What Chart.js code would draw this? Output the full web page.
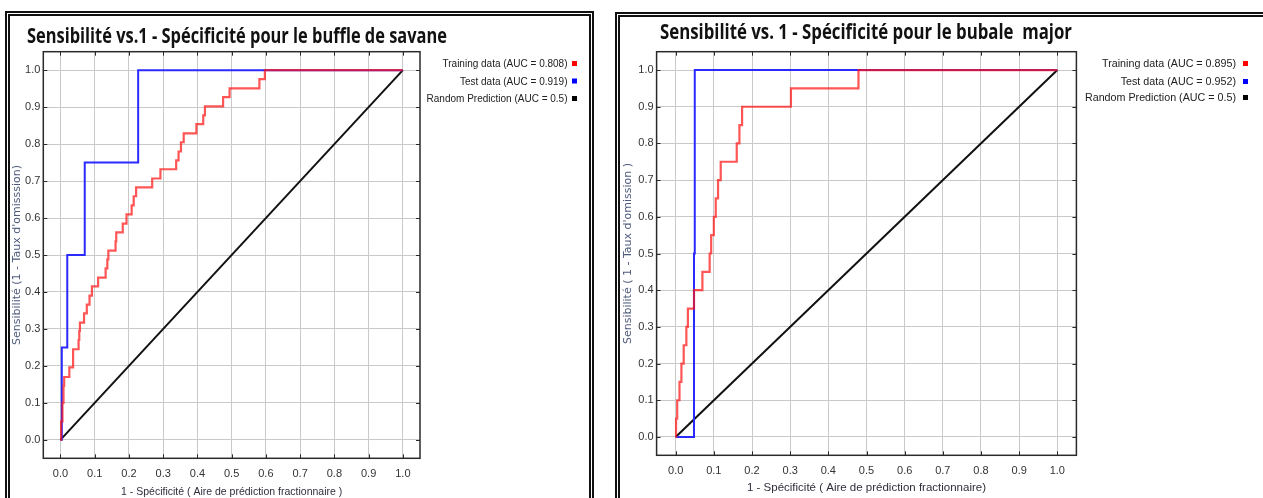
<!DOCTYPE html>
<html>
<head>
<meta charset="utf-8">
<script src="https://cdn.jsdelivr.net/npm/chart.js@4.4.1/dist/chart.umd.min.js"></script>
<style>
    html, body { margin: 0; padding: 0; background: #fff; width: 1263px; height: 498px; overflow: hidden; }
    .frame { position: absolute; border: 5px double #111; box-sizing: border-box; }
    #f1 { left: 5px; top: 11px; width: 589px; height: 520px; }
    #f2 { left: 615px; top: 12px; width: 680px; height: 520px; }
    canvas { position: absolute; }
</style>
</head>
<body>
<div class="frame" id="f1"></div>
<div class="frame" id="f2"></div>
<canvas id="roc_buffle" width="578" height="483" style="left:10px;top:15px"></canvas>
<canvas id="roc_bubale" width="643" height="481" style="left:620px;top:17px"></canvas>
<script>
    // graduations communes
    var tickValues = [0, 0.1, 0.2, 0.3, 0.4, 0.5, 0.6, 0.7, 0.8, 0.9, 1.0];

    // buffle de savane - paliers (debut de palier x, sensibilite y)
    var bufTrainX = [0, 0.002, 0.006, 0.009, 0.011, 0.026, 0.037, 0.053, 0.055, 0.057, 0.069, 0.077, 0.085, 0.092, 0.110, 0.132, 0.137, 0.140, 0.161, 0.163, 0.182, 0.193, 0.208, 0.214, 0.221, 0.268, 0.292, 0.338, 0.345, 0.352, 0.360, 0.397, 0.417, 0.422, 0.475, 0.494, 0.581, 0.597, 1.0];
    var bufTrainY = [0, 0.05, 0.10, 0.146, 0.17, 0.196, 0.245, 0.27, 0.295, 0.317, 0.342, 0.366, 0.39, 0.415, 0.439, 0.464, 0.488, 0.512, 0.537, 0.561, 0.585, 0.61, 0.634, 0.659, 0.683, 0.707, 0.732, 0.756, 0.78, 0.805, 0.829, 0.854, 0.878, 0.902, 0.927, 0.951, 0.976, 1.0, 1.0];
    var bufTestX = [0, 0.004, 0.020, 0.071, 0.227, 1.0];
    var bufTestY = [0, 0.25, 0.5, 0.75, 1.0, 1.0];

    // bubale major
    var bubTrainX = [0, 0.001, 0.004, 0.010, 0.015, 0.021, 0.028, 0.032, 0.048, 0.070, 0.089, 0.093, 0.100, 0.105, 0.111, 0.118, 0.160, 0.167, 0.174, 0.302, 0.479, 1.0];
    var bubTrainY = [0, 0.05, 0.10, 0.15, 0.20, 0.25, 0.30, 0.35, 0.40, 0.45, 0.50, 0.55, 0.60, 0.65, 0.70, 0.75, 0.80, 0.85, 0.90, 0.95, 1.0, 1.0];
    var bubTestX = [0, 0.048, 0.050, 1.0];
    var bubTestY = [0, 0.5, 1.0, 1.0];

    // prediction aleatoire
    var randX = [0, 1];
    var randY = [0, 1];

    var bufLabels = ['Training data (AUC = 0.808)', 'Test data (AUC = 0.919)', 'Random Prediction (AUC = 0.5)'];
    var bubLabels = ['Training data (AUC = 0.895)', 'Test data (AUC = 0.952)', 'Random Prediction (AUC = 0.5)'];

    function toPoints(xs, ys) {
        var pts = [];
        for (var i = 0; i < xs.length; i++) {
            pts.push({ x: xs[i], y: ys[i] });
        }
        return pts;
    }

    // titre, legende et cadre du graphe
    var decorPlugin = {
        id: 'decor',
        afterDraw: function (chart) {
            var o = chart.options.plugins.decor;
            var ctx = chart.ctx;
            var a = chart.chartArea;
            var sx = chart.scales.x, sy = chart.scales.y;
            ctx.save();

            // cadre + petites graduations interieures
            ctx.strokeStyle = '#2a2a2a';
            ctx.lineWidth = 1.5;
            ctx.strokeRect(a.left, a.top, a.right - a.left, a.bottom - a.top);
            ctx.lineWidth = 1;
            ctx.beginPath();
            tickValues.forEach(function (v) {
                var px = Math.round(sx.getPixelForValue(v)) + 0.5;
                var py = Math.round(sy.getPixelForValue(v)) + 0.5;
                ctx.moveTo(px, a.top); ctx.lineTo(px, a.top + 4);
                ctx.moveTo(px, a.bottom); ctx.lineTo(px, a.bottom - 4);
                ctx.moveTo(a.left, py); ctx.lineTo(a.left + 4, py);
                ctx.moveTo(a.right, py); ctx.lineTo(a.right - 4, py);
            });
            ctx.stroke();

            // titre
            ctx.fillStyle = '#111';
            ctx.textBaseline = 'middle';
            ctx.textAlign = 'left';
            ctx.font = 'bold 21px "Open Sans"';
            var tw = ctx.measureText(o.title).width;
            ctx.save();
            ctx.translate(o.titleX, o.titleY);
            ctx.scale(o.titleW / tw, 1);
            ctx.fillText(o.title, 0, 0);
            ctx.restore();

            // legende (texte a droite, carre de couleur)
            ctx.font = '11.5px "Liberation Sans"';
            var lw = ctx.measureText(chart.data.datasets[0].label).width;
            var k = o.legendW / lw;
            chart.data.datasets.forEach(function (ds, i) {
                var y = o.legendY[i];
                ctx.save();
                ctx.translate(o.legendRight, y);
                ctx.scale(k, 1);
                ctx.textAlign = 'right';
                ctx.fillStyle = '#222';
                ctx.fillText(ds.label, 0, 0);
                ctx.restore();
                ctx.fillStyle = ds.legendColor;
                ctx.fillRect(o.legendBox, y - 3, 5, 5);
            });
            ctx.restore();
        }
    };

    function rendRoc(id, cfg) {
        var lineBase = { showLine: true, pointRadius: 0, pointHoverRadius: 0, fill: false };
        var datasets = [
            Object.assign({ label: cfg.labels[0], data: toPoints(cfg.trainX, cfg.trainY), borderColor: 'rgba(255,20,20,0.72)', borderWidth: 2.2, legendColor: '#ff0000', stepped: 'before' }, lineBase),
            Object.assign({ label: cfg.labels[1], data: toPoints(cfg.testX, cfg.testY), borderColor: '#2a2aff', borderWidth: 2, legendColor: '#0000ff', stepped: 'before' }, lineBase),
            Object.assign({ label: cfg.labels[2], data: toPoints(randX, randY), borderColor: '#111', borderWidth: 2, legendColor: '#000', stepped: false }, lineBase)
        ];
        var tickFont = { family: '"Liberation Sans"', size: 11 };
        return new Chart(document.getElementById(id).getContext('2d'), {
            type: 'scatter',
            data: { datasets: datasets },
            options: {
                responsive: false,
                animation: false,
                events: [],
                layout: { padding: cfg.padding },
                plugins: {
                    legend: { display: false },
                    tooltip: { enabled: false },
                    decor: cfg.decor
                },
                scales: {
                    x: {
                        type: 'linear', min: -0.05, max: 1.05,
                        afterBuildTicks: function (s) { s.ticks = tickValues.map(function (v) { return { value: v }; }); },
                        afterFit: function (s) { s.height = cfg.xH; },
                        grid: { color: '#c9c9c9', lineWidth: 1, drawTicks: false },
                        border: { display: false },
                        ticks: { padding: 9, color: '#333', font: tickFont, maxRotation: 0, autoSkip: false, callback: function (v) { return v.toFixed(1); } },
                        title: { display: true, text: cfg.xTitle, color: '#2f2f3c', font: { family: '"Liberation Sans"', size: cfg.xTitleSize }, padding: { top: 0, bottom: cfg.xTitlePad } }
                    },
                    y: {
                        type: 'linear', min: -0.05, max: 1.05,
                        afterBuildTicks: function (s) { s.ticks = tickValues.map(function (v) { return { value: v }; }); },
                        afterFit: function (s) { s.width = cfg.yW; },
                        grid: { color: '#c9c9c9', lineWidth: 1, drawTicks: false },
                        border: { display: false },
                        ticks: { padding: 3, color: '#333', font: tickFont, autoSkip: false, callback: function (v) { return v.toFixed(1); } },
                        title: { display: true, text: cfg.yTitle, color: '#4d5a7c', font: { family: '"DejaVu Sans"', size: 11 }, padding: { top: cfg.yTitlePad, bottom: 0 } }
                    }
                }
            },
            plugins: [decorPlugin]
        });
    }

    rendRoc('roc_buffle', {
        labels: bufLabels,
        trainX: bufTrainX, trainY: bufTrainY,
        testX: bufTestX, testY: bufTestY,
        padding: { left: 0, top: 36.7, right: 168, bottom: 0 },
        xH: 39.7, yW: 33.3,
        xTitle: '1 - Spécificité ( Aire de prédiction fractionnaire )', xTitleSize: 10.5, xTitlePad: 0,
        yTitle: "Sensibilité (1 - Taux d'omisssion)", yTitlePad: 1,
        decor: {
            title: 'Sensibilité vs.1 - Spécificité pour le buffle de savane',
            titleX: 17, titleY: 22, titleW: 420,
            legendRight: 557.5, legendW: 125, legendBox: 562, legendY: [49, 66.5, 84]
        }
    });

    rendRoc('roc_bubale', {
        labels: bubLabels,
        trainX: bubTrainX, trainY: bubTrainY,
        testX: bubTestX, testY: bubTestY,
        padding: { left: 0, top: 34.7, right: 186.6, bottom: 0 },
        xH: 42.7, yW: 36.6,
        xTitle: '1 - Spécificité ( Aire de prédiction fractionnaire)', xTitleSize: 11.5, xTitlePad: 3,
        yTitle: "Sensibilité ( 1 - Taux d'omission )", yTitlePad: 2,
        decor: {
            title: 'Sensibilité vs. 1 - Spécificité pour le bubale  major',
            titleX: 40, titleY: 16, titleW: 412,
            legendRight: 616, legendW: 134, legendBox: 623, legendY: [47, 65, 81]
        }
    });
</script>
</body>
</html>
